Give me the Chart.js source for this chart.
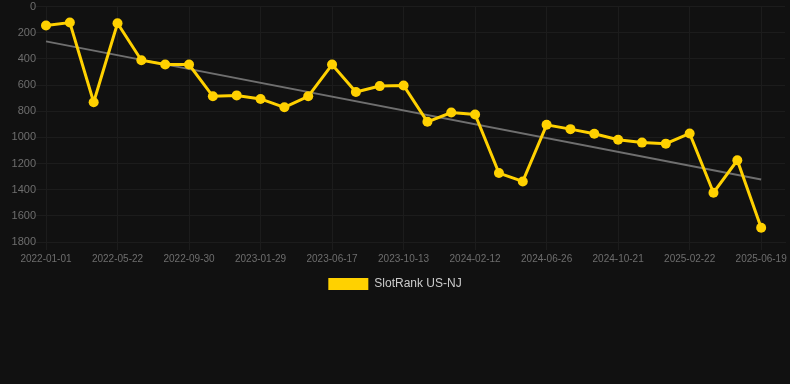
<!DOCTYPE html>
<html>
<head>
<meta charset="utf-8">
<script src="https://cdn.jsdelivr.net/npm/chart.js@4/dist/chart.umd.min.js"></script>
<style>
  html, body { margin: 0; padding: 0; background: #111111; }
  #wrap { position: relative; width: 790px; height: 300px; }
</style>
</head>
<body>
<div id="wrap"><canvas id="rankChart"></canvas></div>
<script>
// Dates for each sample (only every third one is shown on the axis)
const dates = [
    '2022-01-01', '2022-02-16', '2022-04-03', '2022-05-22', '2022-07-05', '2022-08-17',
    '2022-09-30', '2022-11-09', '2022-12-19', '2023-01-29', '2023-03-16', '2023-05-01',
    '2023-06-17', '2023-07-26', '2023-09-04', '2023-10-13', '2023-11-22', '2024-01-02',
    '2024-02-12', '2024-03-27', '2024-05-11', '2024-06-26', '2024-08-03', '2024-09-11',
    '2024-10-21', '2024-12-01', '2025-01-11', '2025-02-22', '2025-04-02', '2025-05-11',
    '2025-06-19', '2025-07-28'
];

// Rank values
const rankValues = [
    144, 122, 731, 127, 410, 443, 443, 686, 679, 706, 770, 686,
    443, 653, 608, 603, 881, 810, 825, 1273, 1337, 904, 937, 972,
    1018, 1040, 1048, 970, 1423, 1175, 1691, null
];

// Trend line end points
const trendValues = [266].concat(new Array(29).fill(null), [1322, null]);

const yTicks = [0, 200, 400, 600, 800, 1000, 1200, 1400, 1600, 1800];

const yellow = '#ffd100';
const gridColor = '#1c1c1c';
const tickColor = '#6e6e6e';

const ctx = document.getElementById('rankChart').getContext('2d');
const rankChart = new Chart(ctx, {
    type: 'line',
    data: {
        labels: dates,
        datasets: [{
            label: 'SlotRank US-NJ',
            data: rankValues,
            borderColor: yellow,
            backgroundColor: yellow,
            borderWidth: 3,
            pointRadius: 5,
            pointBackgroundColor: yellow,
            pointBorderWidth: 0,
            tension: 0
        }, {
            label: 'Trend',
            data: trendValues,
            borderColor: '#6f6f6f',
            borderWidth: 2,
            pointRadius: 0,
            spanGaps: true,
            tension: 0
        }]
    },
    options: {
        responsive: true,
        maintainAspectRatio: false,
        animation: false,
        layout: { padding: 0 },
        plugins: {
            legend: {
                position: 'bottom',
                labels: {
                    color: '#cccccc',
                    font: { size: 12 },
                    boxWidth: 40,
                    boxHeight: 12,
                    filter: item => item.text !== 'Trend',
                    generateLabels: chart => Chart.defaults.plugins.legend.labels.generateLabels(chart)
                        .map(item => Object.assign(item, { lineWidth: 0 }))
                }
            },
            tooltip: { enabled: false }
        },
        scales: {
            x: {
                ticks: {
                    autoSkip: false,
                    maxRotation: 0,
                    color: tickColor,
                    font: { size: 10 },
                    callback: (v, i) => (i % 3 === 0 ? dates[i] : '')
                },
                grid: {
                    color: c => (c.index % 3 === 0 ? gridColor : 'transparent')
                },
                border: { color: gridColor }
            },
            y: {
                reverse: true,
                min: 0,
                max: 1800,
                afterBuildTicks: axis => { axis.ticks = yTicks.map(v => ({ value: v })); },
                afterFit: axis => { axis.width = 46; },
                ticks: {
                    color: tickColor,
                    font: { size: 11 },
                    padding: 0,
                    callback: v => String(v)
                },
                grid: { color: gridColor, tickLength: 10 },
                border: { color: gridColor }
            }
        }
    }
});
</script>
</body>
</html>
